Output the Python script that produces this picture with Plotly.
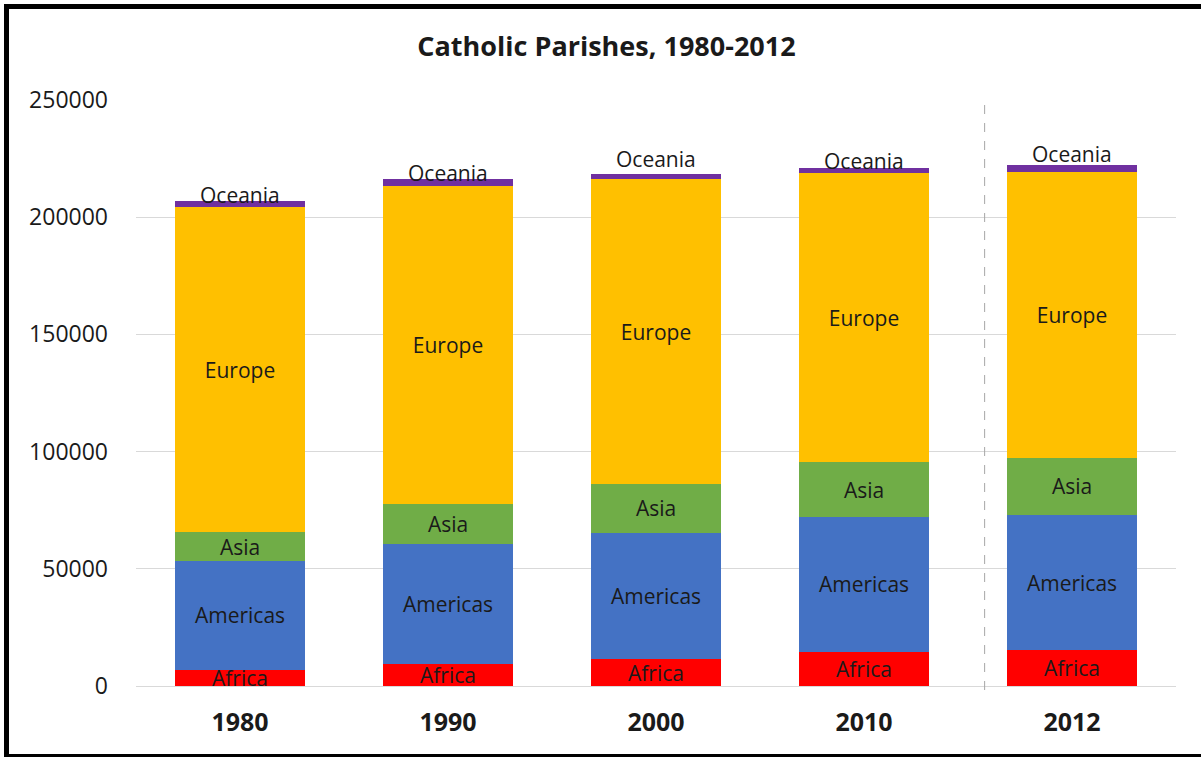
import plotly.graph_objects as go

years = ["1980", "1990", "2000", "2010", "2012"]
africa = [6950, 9260, 11390, 14630, 15230]
americas = [46500, 51320, 54010, 57470, 57850]
asia = [12120, 16930, 20900, 23460, 24190]
europe = [138900, 135790, 129860, 123160, 122000]
oceania = [2300, 2860, 2130, 2260, 2990]
y_ticks = [0, 50000, 100000, 150000, 200000, 250000]

series = [
    ("Africa", africa, "#FF0000"),
    ("Americas", americas, "#4472C4"),
    ("Asia", asia, "#70AD47"),
    ("Europe", europe, "#FFC000"),
    ("Oceania", oceania, "#7030A0"),
]

FONT = "Open Sans"
fig = go.Figure()
for name, vals, col in series:
    show_text = name != "Oceania"
    fig.add_trace(go.Bar(
        x=years, y=vals, name=name,
        marker=dict(color=col, line=dict(width=0)),
        text=[name] * len(vals) if show_text else None,
        textposition="inside" if show_text else "none",
        insidetextanchor="middle",
        textangle=0,
        textfont=dict(family=FONT, size=21, color="#1a1a1a"),
        hoverinfo="skip",
    ))

# Oceania labels above the stack tops (category index positions)
totals = [sum(v) for v in zip(africa, americas, asia, europe, oceania)]
oce_shift = [6, 6, 15, 7, 11]
for i, (tot, sh) in enumerate(zip(totals, oce_shift)):
    fig.add_annotation(x=i, y=tot, xref="x", yref="y", text="Oceania", showarrow=False,
                       yanchor="middle", yshift=sh,
                       font=dict(family=FONT, size=21, color="#1a1a1a"))

L, R, T, B = 136, 25, 100, 71
W, H = 1201, 757
pw, ph = W - L - R, H - T - B

def px(x):
    return (x - L) / pw

def py(y):
    return (H - B - y) / ph

shapes = [
    dict(type="line", xref="x", yref="paper", x0=3.58, x1=3.58, y0=py(690), y1=1,
         line=dict(color="#A6A6A6", width=1, dash="dash")),
    dict(type="line", xref="paper", yref="paper", x0=px(6.5), x1=px(6.5), y0=py(4), y1=py(757),
         line=dict(color="black", width=5)),
    dict(type="line", xref="paper", yref="paper", x0=px(4), x1=px(1201), y0=py(6.5), y1=py(6.5),
         line=dict(color="black", width=5)),
    dict(type="line", xref="paper", yref="paper", x0=px(4), x1=px(1201), y0=py(755.5), y1=py(755.5),
         line=dict(color="black", width=3)),
]

fig.update_layout(
    width=W, height=H,
    barmode="stack",
    bargap=0.375,
    showlegend=False,
    paper_bgcolor="white",
    plot_bgcolor="white",
    margin=dict(l=L, r=R, t=T, b=B, pad=0),
    title=dict(text="<b>Catholic Parishes, 1980-2012</b>", x=0.505, xref="container",
               y=1 - 47 / H, yref="container", xanchor="center", yanchor="middle",
               font=dict(family=FONT, size=27, color="#1a1a1a")),
    uniformtext=dict(minsize=21, mode="show"),
    shapes=shapes,
    xaxis=dict(type="category", categoryorder="array", categoryarray=years,
               range=[-0.5, 4.5], showgrid=False, showline=False, zeroline=False,
               ticks="", tickfont=dict(family=FONT, size=25, color="#1a1a1a", weight="bold"),
               ticklabelstandoff=19),
    yaxis=dict(range=[0, 250000], tickvals=y_ticks, ticktext=[str(v) for v in y_ticks],
               showgrid=True, gridcolor="#D9D9D9", gridwidth=1,
               zeroline=True, zerolinecolor="#D9D9D9", zerolinewidth=1,
               showline=False, ticks="",
               tickfont=dict(family=FONT, size=23, color="#1a1a1a"),
               ticklabelstandoff=27),
)

fig.write_html("out.html", config={"displayModeBar": False},
               post_script="document.body.style.margin='0px';document.body.style.overflow='hidden';")
